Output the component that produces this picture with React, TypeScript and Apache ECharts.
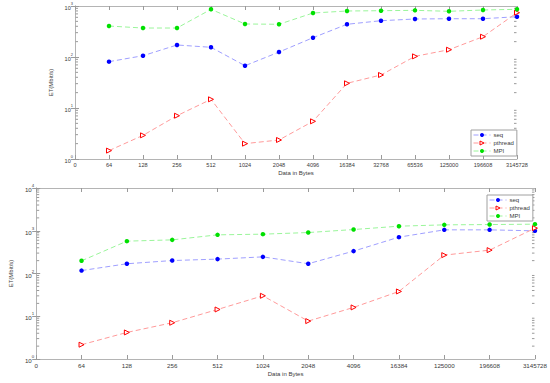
import React, { useEffect, useRef } from 'react';
import * as echarts from 'echarts';

const topCategories = ['0', '64', '128', '256', '512', '1024', '2048', '4096', '16384', '32768', '65536', '125000', '196608', '3145728'];
const topSeq = [81, 106, 172, 155, 67.5, 125, 239, 438, 515, 556, 563, 563, 617];
const topPthread = [1.46, 2.91, 7.06, 14.8, 2.0, 2.36, 5.48, 30.5, 44.4, 103, 139, 250, 739];
const topMPI = [405, 370, 370, 861, 444, 438, 729, 798, 809, 822, 787, 835, 861];

const bottomCategories = ['0', '64', '128', '256', '512', '1024', '2048', '4096', '16384', '125000', '196608', '3145728'];
const bottomSeq = [117, 169, 201, 217, 245, 169, 334, 708, 1050, 1050, 995];
const bottomPthread = [2.16, 4.18, 7.05, 14.4, 30.1, 7.7, 16.1, 38, 269, 352, 1150];
const bottomMPI = [198, 571, 612, 802, 832, 908, 1067, 1279, 1374, 1396, 1425];

const minorMultipliers = [2, 3, 4, 5, 6, 7, 8, 9];
const topDecades = [1, 10, 100];
const bottomDecades = [1, 10, 100, 1000];

const FONT = 'Liberation Sans, Arial, sans-serif';
const AXIS_COLOR = '#b4b4b4';
const TICK_COLOR = '#9a9a9a';
const LABEL_COLOR = '#3a3a3a';

const STYLES: Record<string, any> = {
  seq: {
    symbol: 'circle',
    symbolSize: 4.5,
    itemStyle: { color: '#0000ff' },
    lineStyle: { color: '#9f9fff', width: 1, type: [5, 3] },
  },
  pthread: {
    symbol: 'triangle',
    symbolRotate: -90,
    symbolSize: 5,
    itemStyle: { color: '#ffffff', borderColor: '#ff0000', borderWidth: 1 },
    lineStyle: { color: '#ff9a9a', width: 1, type: [5, 3] },
  },
  MPI: {
    symbol: 'circle',
    symbolSize: 4.5,
    itemStyle: { color: '#00e000' },
    lineStyle: { color: '#9af59a', width: 1, type: [5, 3] },
  },
};

function App() {
  const ref = useRef<HTMLDivElement>(null);
  useEffect(() => {
    if (!ref.current) return;
    const chart = echarts.init(ref.current, undefined, { renderer: 'svg' });

    const xAxisPair = (gridIndex: number, cats: string[], fontSize: number, nameGap: number) => [
      {
        gridIndex,
        type: 'value',
        min: 0,
        max: cats.length - 1,
        interval: 1,
        position: 'bottom',
        axisLine: { show: true, lineStyle: { color: AXIS_COLOR, width: 1 } },
        axisTick: { show: true, inside: true, length: 4, lineStyle: { color: TICK_COLOR } },
        axisLabel: {
          formatter: (v: number) => cats[Math.round(v)] ?? '',
          fontSize,
          color: LABEL_COLOR,
          fontFamily: FONT,
          margin: 3,
          showMinLabel: true,
          showMaxLabel: true,
        },
        splitLine: { show: false },
        name: 'Data in Bytes',
        nameLocation: 'middle',
        nameGap,
        nameTextStyle: { fontSize: 6, color: LABEL_COLOR, fontFamily: FONT },
      },
      {
        gridIndex,
        type: 'value',
        min: 0,
        max: cats.length - 1,
        interval: 1,
        position: 'top',
        axisLine: { show: true, lineStyle: { color: AXIS_COLOR, width: 1 } },
        axisTick: { show: true, inside: true, length: 4, lineStyle: { color: TICK_COLOR } },
        axisLabel: { show: false },
        splitLine: { show: false },
      },
    ];

    const yAxisPair = (gridIndex: number, max: number, nameGap: number, fontSize: number) => [
      {
        gridIndex,
        type: 'log',
        logBase: 10,
        min: 1,
        max,
        position: 'left',
        axisLine: { show: true, lineStyle: { color: AXIS_COLOR, width: 1 } },
        axisTick: { show: true, inside: true, length: 4, lineStyle: { color: TICK_COLOR } },
        axisLabel: {
          formatter: (v: number) => `{b|10}{s|${Math.round(Math.log10(v))}}`,
          margin: 2,
          rich: {
            b: { fontSize, color: LABEL_COLOR, fontFamily: FONT, lineHeight: 9, verticalAlign: 'bottom' },
            s: { fontSize: fontSize * 0.7, color: LABEL_COLOR, fontFamily: FONT, lineHeight: 9, verticalAlign: 'top' },
          },
        },
        splitLine: { show: false },
        name: 'ET(Mbit/s)',
        nameLocation: 'middle',
        nameGap,
        nameRotate: 90,
        nameTextStyle: { fontSize: 6, color: LABEL_COLOR, fontFamily: FONT },
      },
      {
        gridIndex,
        type: 'log',
        logBase: 10,
        min: 1,
        max,
        position: 'right',
        axisLine: { show: true, lineStyle: { color: AXIS_COLOR, width: 1 } },
        axisTick: { show: true, inside: true, length: 4, lineStyle: { color: TICK_COLOR } },
        axisLabel: { show: false },
        splitLine: { show: false },
      },
    ];

    const minorSeries = (xAxisIndex: number, yAxisIndex: number, decades: number[], xMax: number) => ({
      type: 'custom',
      xAxisIndex,
      yAxisIndex,
      silent: true,
      z: 1,
      encode: { x: 0, y: 1 },
      data: decades.flatMap((d) => minorMultipliers.map((m) => [0, d * m])),
      renderItem: (_params: any, api: any) => {
        const v = api.value(1);
        const l = api.coord([0, v]);
        const r = api.coord([xMax, v]);
        return {
          type: 'group',
          children: [
            { type: 'line', shape: { x1: l[0] + 0.5, y1: l[1], x2: l[0] + 3, y2: l[1] }, style: { stroke: TICK_COLOR, lineWidth: 1 } },
            { type: 'line', shape: { x1: r[0] - 0.5, y1: r[1], x2: r[0] - 3, y2: r[1] }, style: { stroke: TICK_COLOR, lineWidth: 1 } },
          ],
        };
      },
    });

    const lineSeries = (name: string, vals: number[], xAxisIndex: number, yAxisIndex: number) => ({
      name,
      type: 'line',
      xAxisIndex,
      yAxisIndex,
      data: vals.map((v, i) => [i + 1, v]),
      z: 3,
      ...STYLES[name],
    });

    const legendCommon = {
      orient: 'vertical',
      data: ['seq', 'pthread', 'MPI'].map((n) => ({
        name: n,
        itemStyle: STYLES[n].itemStyle,
        lineStyle: STYLES[n].lineStyle,
      })),
      backgroundColor: '#ffffff',
      borderColor: '#a0a0a0',
      borderWidth: 1,
      itemWidth: 17,
      itemHeight: 5,
      itemGap: 2,
      padding: [2, 3, 2, 2],
      textStyle: { fontSize: 6, color: LABEL_COLOR, fontFamily: FONT, padding: [0, 0, 0, -2] },
      selectedMode: false,
    };

    chart.setOption({
      animation: false,
      backgroundColor: '#ffffff',
      textStyle: { fontFamily: FONT },
      grid: [
        { left: 75, top: 6, width: 442, height: 153 },
        { left: 26, top: 188, width: 511, height: 171 },
      ],
      legend: [
        { ...legendCommon, left: 471, top: 130 },
        { ...legendCommon, left: 487, top: 195 },
      ],
      xAxis: [...xAxisPair(0, topCategories, 5.6, 11), ...xAxisPair(1, bottomCategories, 6.2, 12)],
      yAxis: [...yAxisPair(0, 1000, 14, 5.6), ...yAxisPair(1, 10000, 15, 6.2)],
      series: [
        minorSeries(0, 0, topDecades, topCategories.length - 1),
        minorSeries(2, 2, bottomDecades, bottomCategories.length - 1),
        lineSeries('seq', topSeq, 0, 0),
        lineSeries('pthread', topPthread, 0, 0),
        lineSeries('MPI', topMPI, 0, 0),
        lineSeries('seq', bottomSeq, 2, 2),
        lineSeries('pthread', bottomPthread, 2, 2),
        lineSeries('MPI', bottomMPI, 2, 2),
      ],
    });
    return () => chart.dispose();
  }, []);
  return <div ref={ref} style={{ position: 'absolute', left: 0, top: 0, width: 550, height: 383 }} />;
}

export default App;
